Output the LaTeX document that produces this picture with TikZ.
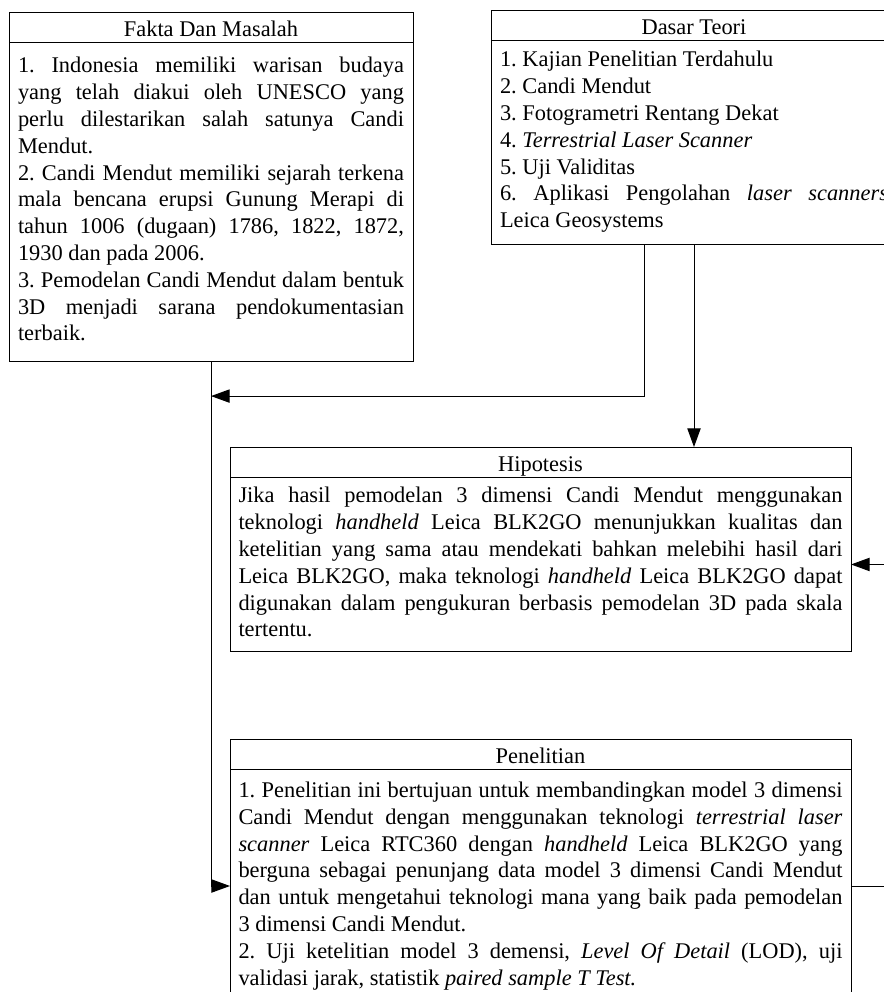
\documentclass[tikz,border=0pt]{standalone}
\usepackage{fontspec}
\setmainfont{Liberation Serif}
\usetikzlibrary{positioning,arrows.meta}
\tikzset{
  judul/.style={draw,rectangle,inner sep=0pt,outer sep=0pt,minimum height=22.5pt,text height=14.5pt,text depth=0pt},
  isi/.style={draw,rectangle,outer sep=0pt,align=justify,execute at begin node=\strut,execute at end node=\strut},
  garis/.style={line width=0.75pt},
  panah/.style={garis,-{Triangle[length=14pt,width=10pt]}}
}
\hbadness=10000
\frenchspacing
\begin{document}
\begin{tikzpicture}[x=0.75pt,y=-0.75pt,font=\fontsize{16.8}{20.1}\selectfont,line width=0.75pt]
\useasboundingbox (0,0) rectangle (884,992);

% kotak fakta
\node[judul,anchor=north west,minimum width=303pt] (fakta) at (9,12) {Fakta Dan Masalah};
\node[isi,below=0pt of fakta,text width=289.5pt,inner xsep=6.75pt,inner ysep=9.1pt] (faktaisi) {1. Indonesia memiliki warisan budaya\linebreak yang telah diakui oleh UNESCO yang\linebreak perlu dilestarikan salah satunya Candi\linebreak Mendut.\par
2. Candi Mendut memiliki sejarah terkena\linebreak mala bencana erupsi Gunung Merapi di\linebreak tahun 1006 (dugaan) 1786, 1822, 1872,\linebreak 1930 dan pada 2006.\par
3. Pemodelan Candi Mendut dalam bentuk\linebreak 3D menjadi sarana pendokumentasian\linebreak terbaik.};

% kotak dasar teori
\node[judul,anchor=north west,minimum width=304.5pt] (dasar) at (491,10) {Dasar Teori};
\node[isi,below=0pt of dasar,text width=291pt,inner xsep=6.75pt,inner ysep=6.15pt] (dasarisi) {1. Kajian Penelitian Terdahulu\par
2. Candi Mendut\par
3. Fotogrametri Rentang Dekat\par
4. \textit{Terrestrial Laser Scanner}\par
5. Uji Validitas\par
6. Aplikasi Pengolahan \textit{laser scanners}\linebreak Leica Geosystems};

% kotak hipotesis
\node[judul,anchor=north west,minimum width=465.75pt] (hipotesis) at (230,447) {Hipotesis};
\node[isi,below=0pt of hipotesis,text width=453pt,inner xsep=6.375pt,inner ysep=5.3pt] (hipotesisisi) {Jika hasil pemodelan 3 dimensi Candi Mendut menggunakan\linebreak teknologi \textit{handheld} Leica BLK2GO menunjukkan kualitas dan\linebreak ketelitian yang sama atau mendekati bahkan melebihi hasil dari\linebreak Leica BLK2GO, maka teknologi \textit{handheld} Leica BLK2GO dapat\linebreak digunakan dalam pengukuran berbasis pemodelan 3D pada skala\linebreak tertentu.};

% kotak penelitian
\node[judul,anchor=north west,minimum width=465.75pt] (penelitian) at (230,739) {Penelitian};
\node[isi,below=0pt of penelitian,text width=453pt,inner xsep=6.375pt,inner ysep=7.35pt] (penelitianisi) {1. Penelitian ini bertujuan untuk membandingkan model 3 dimensi\linebreak Candi Mendut dengan menggunakan teknologi \textit{terrestrial laser}\linebreak \textit{scanner} Leica RTC360 dengan \textit{handheld} Leica BLK2GO yang\linebreak berguna sebagai penunjang data model 3 dimensi Candi Mendut\linebreak dan untuk mengetahui teknologi mana yang baik pada pemodelan\linebreak 3 dimensi Candi Mendut.\par
2. Uji ketelitian model 3 demensi, \textit{Level Of Detail} (LOD), uji\linebreak validasi jarak, statistik \textit{paired sample T Test.}};

\coordinate (temu) at ([yshift=-26.25pt]faktaisi.south);
\coordinate (luar) at (890,0);

% panah
\draw[panah] (faktaisi.south) |- (penelitianisi.west);
\draw[panah] ([xshift=-37.5pt]dasarisi.south) |- (temu);
\draw[panah] (dasarisi.south) -- (dasarisi.south |- hipotesis.north);
\draw[panah] (luar |- hipotesisisi.east) -- (hipotesisisi.east);
\draw[garis] (penelitianisi.east) -- (luar |- penelitianisi.east);
\end{tikzpicture}
\end{document}
